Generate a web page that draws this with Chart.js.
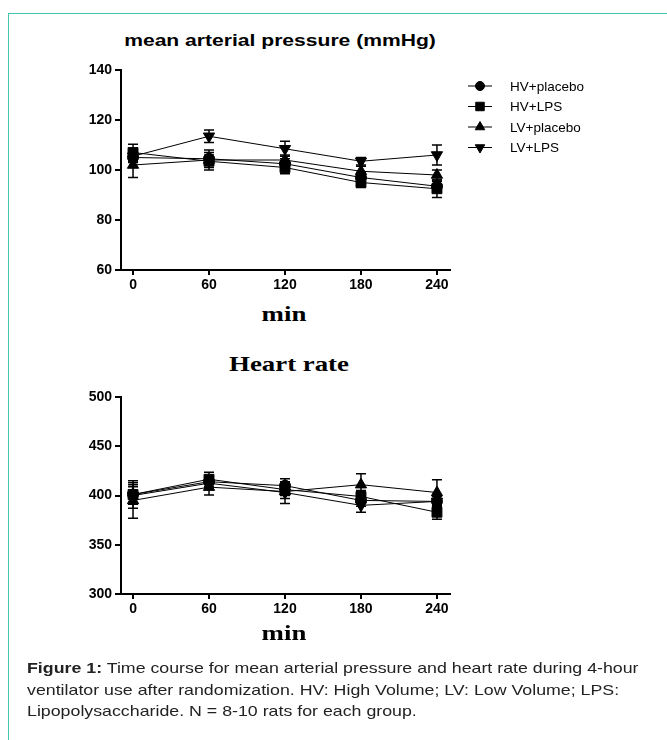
<!DOCTYPE html>
<html>
<head>
<meta charset="utf-8">
<script src="https://cdn.jsdelivr.net/npm/chart.js@4.4.1/dist/chart.umd.min.js"></script>
<style>
  body { margin: 0; background: #fff; width: 667px; height: 740px; position: relative; overflow: hidden; font-family: "Liberation Sans", Arial, sans-serif; }
  .frame-top { position: absolute; left: 8px; top: 13px; width: 659px; height: 0; border-top: 1px solid #45c6ae; }
  .frame-left { position: absolute; left: 8px; top: 13px; width: 0; height: 727px; border-left: 1px solid #45c6ae; }
  .title { position: absolute; left: 0; width: 566px; text-align: center; color: #000; transform-origin: 283px 0; }
  .map-title { top: 31px; left: -3px; font: bold 17px "Liberation Sans", Arial, sans-serif; transform: scaleX(1.24); }
  .serif { font-family: "Liberation Serif", "Times New Roman", serif; font-weight: bold; transform: scaleX(1.22); }
  canvas { position: absolute; }
  .caption { position: absolute; left: 27px; top: 657px; font-size: 15px; line-height: 21.5px; color: #222; white-space: nowrap; transform: scaleX(1.185); transform-origin: 0 0; }
</style>
</head>
<body>
<div class="frame-top"></div>
<div class="frame-left"></div>

<div class="title map-title">mean arterial pressure (mmHg)</div>
<div style="position:absolute;left:60px;top:55px;width:560px;height:245px"><canvas id="chart-map"></canvas></div>
<div class="title serif" style="top:301px;left:1px;font-size:22px">min</div>
<div class="title serif" style="top:351px;left:6px;font-size:22px">Heart rate</div>
<div style="position:absolute;left:60px;top:382px;width:560px;height:242px"><canvas id="chart-hr"></canvas></div>
<div class="title serif" style="top:620px;left:1px;font-size:22px">min</div>

<div class="caption"><b>Figure 1:</b> Time course for mean arterial pressure and heart rate during 4-hour<br>ventilator use after randomization. HV: High Volume; LV: Low Volume; LPS:<br>Lipopolysaccharide. N = 8-10 rats for each group.</div>

<script>
const minutes = [0, 60, 120, 180, 240];
const groupNames = ['HV+placebo', 'HV+LPS', 'LV+placebo', 'LV+LPS'];

// mean arterial pressure (mmHg), mean and error
const mapHVPlacebo = [105, 104.5, 102.5, 97, 93.5];
const mapHVLPS = [107, 103.5, 101, 95, 92.5];
const mapLVPlacebo = [102, 104, 104, 99.5, 98];
const mapLVLPS = [105.5, 113.5, 108.5, 103.5, 106];
const mapHVPlaceboErr = [2, 3.5, 2, 2, 2];
const mapHVLPSErr = [3.3, 3.5, 2.5, 2, 3.5];
const mapLVPlaceboErr = [5, 2, 2, 2, 2];
const mapLVLPSErr = [2, 2.5, 3, 1.5, 4];
const mapTicks = [60, 80, 100, 120, 140];

// heart rate, mean and error
const hrHVPlacebo = [401, 414, 410, 395, 394];
const hrHVLPS = [401, 416.5, 406, 399, 383];
const hrLVPlacebo = [395, 408.5, 404, 411, 403];
const hrLVLPS = [400, 412.5, 403, 390, 394];
const hrHVPlaceboErr = [10, 5, 7, 6, 6];
const hrHVLPSErr = [14, 7, 6, 6, 7];
const hrLVPlaceboErr = [18, 8, 7, 11, 13];
const hrLVLPSErr = [9, 5, 11, 7, 5];
const hrTicks = [300, 350, 400, 450, 500];

const markers = [
    { pointStyle: 'circle', radius: 5.5, rotation: 0 },
    { pointStyle: 'rect', radius: 7, rotation: 0 },
    { pointStyle: 'triangle', radius: 6.5, rotation: 0 },
    { pointStyle: 'triangle', radius: 6.5, rotation: 180 }
];

const FONT = '"Liberation Sans", Arial, sans-serif';

const errorBars = {
    id: 'errorBars',
    afterDatasetsDraw(chart) {
        const ctx = chart.ctx;
        const yScale = chart.scales.y;
        ctx.save();
        ctx.strokeStyle = '#000';
        ctx.lineWidth = 1.5;
        chart.data.datasets.forEach((ds, i) => {
            const meta = chart.getDatasetMeta(i);
            meta.data.forEach((pt, j) => {
                const v = ds.data[j].y;
                const e = ds.errors[j];
                const top = yScale.getPixelForValue(v + e);
                const bottom = yScale.getPixelForValue(v - e);
                ctx.beginPath();
                ctx.moveTo(pt.x, top); ctx.lineTo(pt.x, bottom);
                ctx.moveTo(pt.x - 5, top); ctx.lineTo(pt.x + 5, top);
                ctx.moveTo(pt.x - 5, bottom); ctx.lineTo(pt.x + 5, bottom);
                ctx.stroke();
            });
        });
        ctx.restore();
    }
};

const lineLegend = {
    id: 'lineLegend',
    afterDraw(chart, args, opts) {
        if (!opts.show) return;
        const ctx = chart.ctx;
        ctx.save();
        chart.data.datasets.forEach((ds, i) => {
            const y = opts.top + i * opts.gap;
            ctx.strokeStyle = '#000';
            ctx.lineWidth = 1;
            ctx.beginPath();
            ctx.moveTo(opts.left, y); ctx.lineTo(opts.left + 24, y);
            ctx.stroke();
            ctx.fillStyle = '#000';
            Chart.helpers.drawPoint(ctx, {
                pointStyle: ds.pointStyle, radius: ds.pointRadius - 1,
                rotation: ds.pointRotation, borderWidth: 1
            }, opts.left + 12, y);
            ctx.font = '13.5px ' + FONT;
            ctx.textBaseline = 'middle';
            ctx.fillText(ds.label, opts.left + 42, y + 1);
        });
        ctx.restore();
    }
};

function makeDatasets(values, errors) {
    return values.map((vals, i) => ({
        label: groupNames[i],
        data: vals.map((v, k) => ({ x: minutes[k], y: v })),
        errors: errors[i],
        borderColor: '#000',
        backgroundColor: '#000',
        borderWidth: 1,
        pointStyle: markers[i].pointStyle,
        pointRadius: markers[i].radius,
        pointRotation: markers[i].rotation,
        pointBackgroundColor: '#000',
        pointBorderColor: '#000',
        tension: 0
    }));
}

function drawChart(id, datasets, yTicks, legend) {
    const ctx = document.getElementById(id).getContext('2d');
    const tickFont = { family: FONT, size: 14, weight: 'bold' };
    return new Chart(ctx, {
        type: 'line',
        data: { datasets: datasets },
        options: {
            responsive: true,
            maintainAspectRatio: false,
            animation: false,
            layout: { padding: { left: 21, right: 170, top: 15, bottom: 0 } },
            plugins: {
                legend: { display: false },
                tooltip: { enabled: false },
                lineLegend: legend
            },
            scales: {
                x: {
                    type: 'linear',
                    min: -9.5,
                    max: 250.3,
                    afterBuildTicks: s => { s.ticks = minutes.map(v => ({ value: v })); },
                    afterFit: s => { s.height = 30; },
                    grid: { display: true, drawOnChartArea: false, drawTicks: true, tickLength: 5, color: '#000', lineWidth: 2 },
                    border: { display: true, color: '#000', width: 2 },
                    ticks: { color: '#000', font: tickFont, padding: 2, maxRotation: 0 }
                },
                y: {
                    min: yTicks[0],
                    max: yTicks[yTicks.length - 1],
                    afterBuildTicks: s => { s.ticks = yTicks.map(v => ({ value: v })); },
                    afterFit: s => { s.width = 40; },
                    grid: { display: true, drawOnChartArea: false, drawTicks: true, tickLength: 6, color: '#000', lineWidth: 2 },
                    border: { display: true, color: '#000', width: 2 },
                    ticks: { color: '#000', font: tickFont, padding: 3 }
                }
            }
        },
        plugins: [errorBars, lineLegend]
    });
}

document.addEventListener('DOMContentLoaded', function () {
    drawChart('chart-map',
        makeDatasets([mapHVPlacebo, mapHVLPS, mapLVPlacebo, mapLVLPS],
                     [mapHVPlaceboErr, mapHVLPSErr, mapLVPlaceboErr, mapLVLPSErr]),
        mapTicks, { show: true, left: 408, top: 31, gap: 20.5 });
    drawChart('chart-hr',
        makeDatasets([hrHVPlacebo, hrHVLPS, hrLVPlacebo, hrLVLPS],
                     [hrHVPlaceboErr, hrHVLPSErr, hrLVPlaceboErr, hrLVLPSErr]),
        hrTicks, { show: false });
});
</script>
</body>
</html>
